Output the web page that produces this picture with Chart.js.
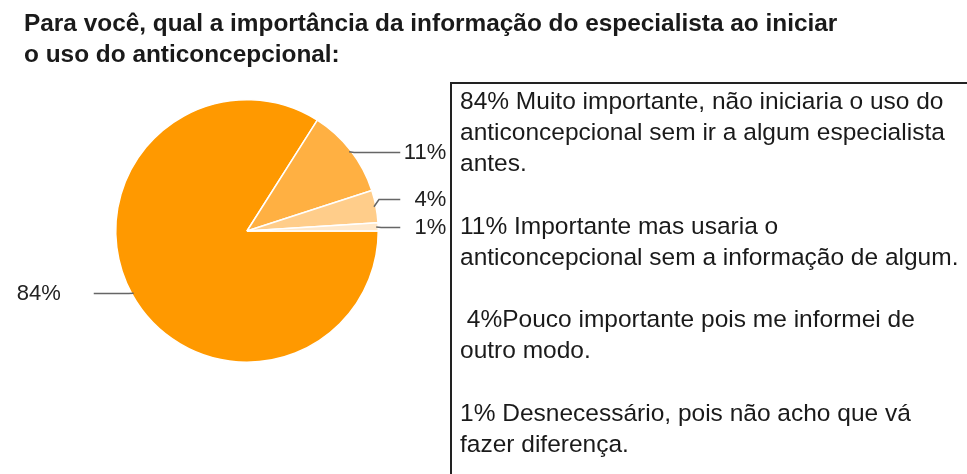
<!DOCTYPE html>
<html>
<head>
<meta charset="utf-8">
<script src="https://cdn.jsdelivr.net/npm/chart.js@4/dist/chart.umd.min.js"></script>
<style>
html,body{margin:0;padding:0;background:#fff;}
#wrap{position:relative;width:967px;height:474px;}
</style>
</head>
<body>
<div id="wrap"><canvas id="c" width="967" height="474"></canvas></div>
<script>
const categories = [
  'Muito importante, não iniciaria o uso do anticoncepcional sem ir a algum especialista antes.',
  'Importante mas usaria o anticoncepcional sem a informação de algum.',
  'Pouco importante pois me informei de outro modo.',
  'Desnecessário, pois não acho que vá fazer diferença.'
];
const values = [84, 11, 4, 1];
const sliceLabels = ['84%', '11%', '4%', '1%'];
const sliceColors = ['#FF9900', '#FFB042', '#FFCD8A', '#FFE8CA'];
const titleLines = [
  'Para você, qual a importância da informação do especialista ao iniciar',
  'o uso do anticoncepcional:'
];
const legendLines = [
  '84% Muito importante, não iniciaria o uso do',
  'anticoncepcional sem ir a algum especialista',
  'antes.',
  '',
  '11% Importante mas usaria o',
  'anticoncepcional sem a informação de algum.',
  '',
  ' 4%Pouco importante pois me informei de',
  'outro modo.',
  '',
  '1% Desnecessário, pois não acho que vá',
  'fazer diferença.'
];

const decor = {
  id: 'decor',
  afterDraw(chart) {
    const ctx = chart.ctx;
    ctx.save();
    // title
    ctx.fillStyle = '#1a1a1a';
    ctx.font = 'bold 24.4px "Liberation Sans", Arial, sans-serif';
    ctx.textAlign = 'left';
    ctx.textBaseline = 'middle';
    titleLines.forEach((t, i) => ctx.fillText(t, 24, 24 + i * 31));

    // slice labels with leader lines
    const meta = chart.getDatasetMeta(0);
    const items = meta.data.map((arc, i) => {
      const p = arc.getProps(['x', 'y', 'startAngle', 'endAngle', 'outerRadius'], true);
      const mid = (p.startAngle + p.endAngle) / 2;
      const r = p.outerRadius;
      const side = Math.cos(mid) >= 0 ? 1 : -1;
      const px = p.x + Math.cos(mid) * (r - 2);
      const py = p.y + Math.sin(mid) * (r - 2);
      return { i, p, r, side, px, py, ly: py };
    });
    // keep labels on the same side at least 28px apart (push upward from the bottom)
    [1, -1].forEach(s => {
      const grp = items.filter(o => o.side === s).sort((a, b) => b.py - a.py);
      for (let k = 1; k < grp.length; k++) {
        if (grp[k - 1].ly - grp[k].ly < 28) grp[k].ly = grp[k - 1].ly - 28;
      }
    });
    ctx.font = '22px "Liberation Sans", Arial, sans-serif';
    items.forEach(o => {
      const ly = Math.round(o.ly) + 0.5;
      const endX = o.p.x + o.side * (o.r + 22);
      ctx.strokeStyle = '#666';
      ctx.lineWidth = 1.5;
      ctx.beginPath();
      ctx.moveTo(o.px, o.py);
      ctx.lineTo(o.px + o.side * 5, ly);
      ctx.lineTo(endX, ly);
      ctx.stroke();
      ctx.fillStyle = '#222';
      ctx.textBaseline = 'middle';
      ctx.textAlign = 'right';
      if (o.side > 0) {
        ctx.fillText(sliceLabels[o.i], o.p.x + o.r + 68, ly);
      } else {
        ctx.fillText(sliceLabels[o.i], o.p.x - o.r - 55, ly);
      }
    });

    // legend box
    ctx.strokeStyle = '#222';
    ctx.lineWidth = 2;
    ctx.beginPath();
    ctx.moveTo(451, 480);
    ctx.lineTo(451, 83);
    ctx.lineTo(975, 83);
    ctx.stroke();
    ctx.fillStyle = '#1a1a1a';
    ctx.textAlign = 'left';
    ctx.textBaseline = 'middle';
    ctx.font = '24.5px "Liberation Sans", Arial, sans-serif';
    legendLines.forEach((t, i) => {
      if (t) ctx.fillText(t, 460, 102 + i * 31.2);
    });
    ctx.restore();
  }
};

new Chart(document.getElementById('c'), {
  type: 'pie',
  data: {
    labels: categories,
    datasets: [{
      data: values,
      backgroundColor: sliceColors,
      borderColor: '#ffffff',
      borderWidth: 1.5
    }]
  },
  options: {
    responsive: false,
    animation: false,
    rotation: 90,
    layout: { padding: { left: 115, right: 588, top: 99, bottom: 111 } },
    plugins: {
      legend: { display: false },
      title: { display: false },
      tooltip: { enabled: false }
    }
  },
  plugins: [decor]
});
</script>
</body>
</html>
